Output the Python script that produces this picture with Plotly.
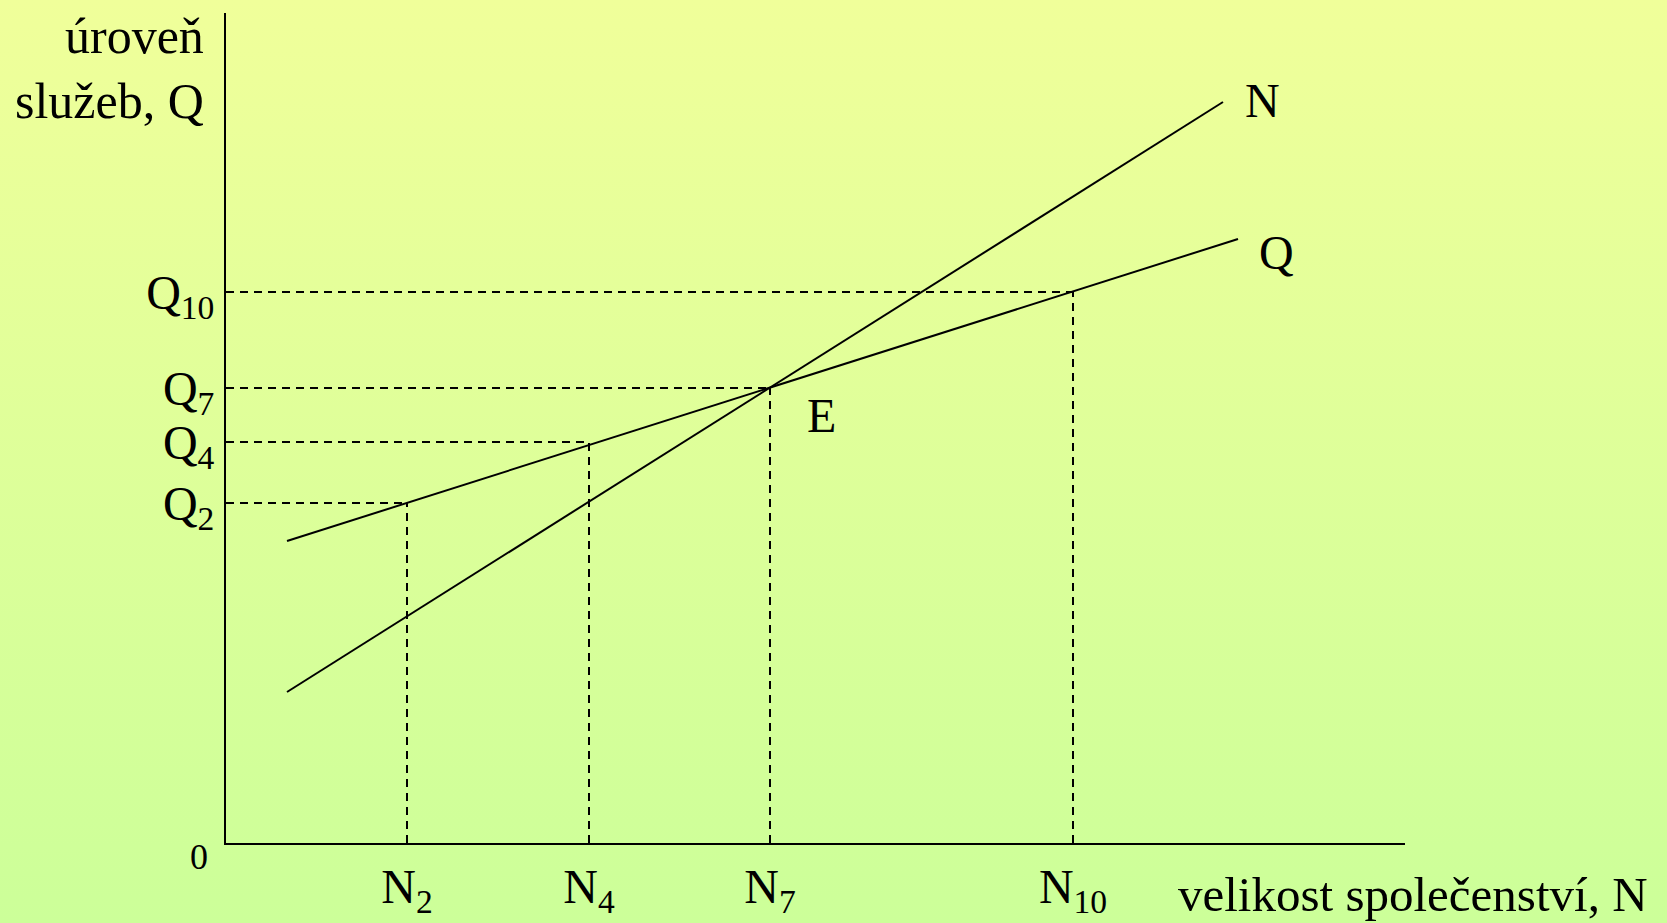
"""
Graf: úroveň služeb Q a velikost společenství N, rovnováha v bodě E
"""

import base64
import plotly.graph_objects as go

# popisky a hodnoty na osách
n_labels = ['N<sub>2</sub>', 'N<sub>4</sub>', 'N<sub>7</sub>', 'N<sub>10</sub>']
n_values = [18.1, 36.3, 54.4, 84.7]
q_labels = ['Q<sub>2</sub>', 'Q<sub>4</sub>', 'Q<sub>7</sub>', 'Q<sub>10</sub>']
q_values = [34.0, 40.1, 45.5, 55.1]

# přímka Q
q_line_x = [6.1, 101.2]
q_line_y = [30.2, 60.4]

# přímka N
n_line_x = [6.1, 99.7]
n_line_y = [15.1, 74.1]

x_max = 117.9
y_max = 83.0

# rozměry stránky a okraje
W, H = 1667, 923
M_L, M_R, M_T, M_B = 226, 262, 13, 80
plot_w = W - M_L - M_R
plot_h = H - M_T - M_B

FONT = 'Liberation Serif'
TOP_COLOR = '#F0FF9A'
BOTTOM_COLOR = '#CCFF99'


def gradient_source():
    """SVG s vertikálním přechodem barev pro pozadí"""
    svg = (
        '<svg xmlns="http://www.w3.org/2000/svg" viewBox="0 0 1 1" '
        'preserveAspectRatio="none" width="100" height="100">'
        '<defs><linearGradient id="g" x1="0" y1="0" x2="0" y2="1">'
        f'<stop offset="0" stop-color="{TOP_COLOR}"/>'
        f'<stop offset="1" stop-color="{BOTTOM_COLOR}"/>'
        '</linearGradient></defs>'
        '<rect x="0" y="0" width="1" height="1" fill="url(#g)"/></svg>'
    )
    return 'data:image/svg+xml;base64,' + base64.b64encode(svg.encode()).decode()


def px_to_paper(px, py):
    """pixel na stránce -> souřadnice paper"""
    return (px - M_L) / plot_w, (H - M_B - py) / plot_h


fig = go.Figure()

# přerušované čáry k osám
dash_x, dash_y = [], []
for n, q in zip(n_values, q_values):
    dash_x += [0, n, None, n, n, None]
    dash_y += [q, q, None, 0, q, None]
fig.add_trace(go.Scatter(
    x=dash_x, y=dash_y, mode='lines',
    line=dict(color='black', width=2, dash='8px,6px'),
    hoverinfo='skip'
))

# přímky N a Q
fig.add_trace(go.Scatter(
    x=n_line_x, y=n_line_y, mode='lines',
    line=dict(color='black', width=2), name='N'
))
fig.add_trace(go.Scatter(
    x=q_line_x, y=q_line_y, mode='lines',
    line=dict(color='black', width=2), name='Q'
))

text_font = dict(family=FONT, size=48, color='black')

# popisky přímek a bodu E (v datech)
annotations = [
    dict(x=n_line_x[1] + 3.9, y=n_line_y[1] + 0.2, text='N'),
    dict(x=q_line_x[1] + 3.8, y=q_line_y[1] - 1.3, text='Q'),
    dict(x=n_values[2] + 5.1, y=q_values[2] - 2.7, text='E'),
]
for a in annotations:
    a.update(xref='x', yref='y', xanchor='center', yanchor='middle',
             showarrow=False, font=text_font)

# popisky os mimo vykreslovací oblast (v paper souřadnicích)
outside = [
    (198.5, 857, '0', 'center', 36),
    (1413, 894, 'velikost společenství, N', 'center', 49),
    (206, 68, 'úroveň<br>služeb, Q', 'right', 50),
]
for px, py, text, anchor, size in outside:
    x, y = px_to_paper(px, py)
    annotations.append(dict(
        x=x, y=y, xref='paper', yref='paper', text=text,
        xanchor=anchor, yanchor='middle', align=anchor, showarrow=False,
        font=dict(family=FONT, size=size, color='black')
    ))

fig.update_layout(
    width=W, height=H,
    margin=dict(l=M_L, r=M_R, t=M_T, b=M_B, pad=0),
    paper_bgcolor='#DEFF99',
    plot_bgcolor='rgba(0,0,0,0)',
    showlegend=False,
    annotations=annotations,
    images=[dict(
        source=gradient_source(),
        xref='paper', yref='paper',
        x=-M_L / plot_w, y=1 + M_T / plot_h,
        sizex=W / plot_w, sizey=H / plot_h,
        xanchor='left', yanchor='top',
        sizing='stretch', layer='below'
    )],
    xaxis=dict(
        range=[0, x_max], showgrid=False, zeroline=False, automargin=False,
        showline=True, linecolor='black', linewidth=2,
        tickvals=n_values, ticktext=n_labels, ticks='',
        tickfont=dict(family=FONT, size=48, color='black')
    ),
    yaxis=dict(
        range=[0, y_max], showgrid=False, zeroline=False, automargin=False,
        showline=True, linecolor='black', linewidth=2,
        tickvals=q_values, ticktext=q_labels, ticks='',
        tickfont=dict(family=FONT, size=48, color='black')
    )
)

# stránka bez okrajů, aby graf vyplnil celé okno
fig.write_html(
    'out.html',
    config={'displayModeBar': False},
    post_script="document.body.style.margin='0';document.body.style.overflow='hidden';"
)
